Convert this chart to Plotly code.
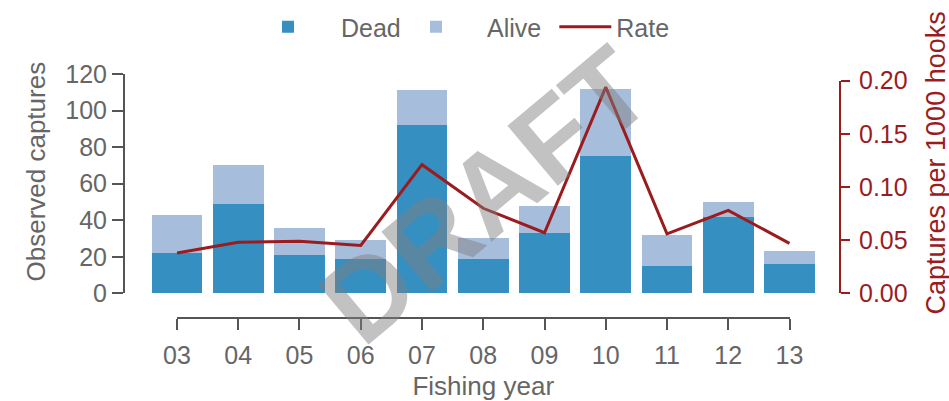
import plotly.graph_objs as go

# fishing years and observed captures
years = ['03', '04', '05', '06', '07', '08', '09', '10', '11', '12', '13']
dead = [22, 49, 21, 19, 92, 19, 33, 75, 15, 42, 16]
alive = [21, 21, 15, 10, 19, 11, 15, 37, 17, 8, 7]
rate = [0.038, 0.048, 0.049, 0.045, 0.121, 0.080, 0.057, 0.194, 0.056, 0.078, 0.047]

left_ticks = [0, 20, 40, 60, 80, 100, 120]
right_ticks = [0.00, 0.05, 0.10, 0.15, 0.20]

FONT = 'Liberation Sans, Arial, sans-serif'
GREY = '#555555'
TXT = '#666666'
RED = '#9b1c1f'

fig = go.Figure()
fig.add_trace(go.Bar(x=years, y=dead, name='Dead', marker_color='#368fc1',
                     marker_line_width=0, legend='legend'))
fig.add_trace(go.Bar(x=years, y=alive, name='Alive', marker_color='#a7bddc',
                     marker_line_width=0, legend='legend2'))
fig.add_trace(go.Scatter(x=years, y=rate, name='Rate', yaxis='y2', mode='lines',
                         line=dict(color=RED, width=3), legend='legend3'))
# invisible trace so the detached bottom axis gets drawn
fig.add_trace(go.Scatter(x=years, y=dead, xaxis='x2', yaxis='y', mode='lines',
                         opacity=0, showlegend=False, hoverinfo='skip'))

leg = dict(orientation='h', y=1.1926, yanchor='middle', xanchor='left',
           font=dict(size=25, color=TXT), bgcolor='rgba(0,0,0,0)')

fig.update_layout(
    width=949, height=401,
    margin=dict(l=124, r=109, t=74, b=83, autoexpand=False),
    paper_bgcolor='white', plot_bgcolor='rgba(0,0,0,0)',
    font=dict(family=FONT, size=25, color=TXT),
    barmode='stack', bargap=0.17,
    showlegend=True,
    legend=dict(leg, x=0.155, itemwidth=96),
    legend2=dict(leg, x=0.3645, itemwidth=92),
    legend3=dict(leg, x=0.601, itemwidth=52),
    xaxis=dict(type='category', range=[-0.5, 10.5], domain=[0.0313, 0.9722],
               anchor='y', showline=False, showticklabels=False, ticks='',
               showgrid=False, zeroline=False, automargin=False),
    xaxis2=dict(type='category', categoryorder='array', categoryarray=years,
                range=[0, 10], domain=[0.0740, 0.9295], automargin=False,
                anchor='free', position=0, showline=True, linecolor=GREY, linewidth=2,
                ticks='outside', ticklen=11, tickwidth=2, tickcolor=GREY,
                tickfont=dict(size=25, color=TXT), showgrid=False, zeroline=False,
                ticklabelstandoff=4,
                title=dict(text='Fishing year', font=dict(size=26, color=TXT), standoff=9)),
    yaxis=dict(range=[0, 120], domain=[0.1012, 1], anchor='free', position=0,
               tickvals=left_ticks, showline=True, linecolor=GREY, linewidth=2,
               ticks='outside', ticklen=11, tickwidth=2, tickcolor=GREY,
               tickfont=dict(size=25, color=TXT), showgrid=False, zeroline=False,
               ticklabelstandoff=0, automargin=False),
    yaxis2=dict(range=[0, 0.2], domain=[0.1012, 0.9725], anchor='free', position=1,
                side='right', tickvals=right_ticks, tickformat='.2f',
                showline=True, linecolor=RED, linewidth=2,
                ticks='outside', ticklen=9, tickwidth=2, tickcolor=RED,
                tickfont=dict(size=25, color=RED), showgrid=False, zeroline=False,
                ticklabelstandoff=4, automargin=False),
)

# axis titles placed like the original (centred on the plot region)
fig.add_annotation(text='Observed captures', xref='paper', yref='paper',
                   x=(35 - 124) / 716, y=(318 - 171.5) / 244, showarrow=False,
                   xanchor='center', yanchor='middle',
                   textangle=-90, font=dict(size=26, color=TXT))
fig.add_annotation(text='Captures per 1000 hooks', xref='paper', yref='paper',
                   x=(935 - 124) / 716, y=(318 - 163.5) / 244, showarrow=False,
                   xanchor='center', yanchor='middle',
                   textangle=-90, font=dict(size=27, color=RED))

# watermark
fig.add_annotation(text='<b>DRAFT</b>', xref='paper', yref='paper', x=0.504, y=0.504,
                   showarrow=False, textangle=-40, xanchor='center', yanchor='middle',
                   font=dict(family=FONT, size=114, color='rgba(128,128,128,0.48)'))

# page body margin would push the figure 8px off the window
fig.write_html('out.html', config={'displayModeBar': False},
               post_script="document.body.style.margin='0';")
